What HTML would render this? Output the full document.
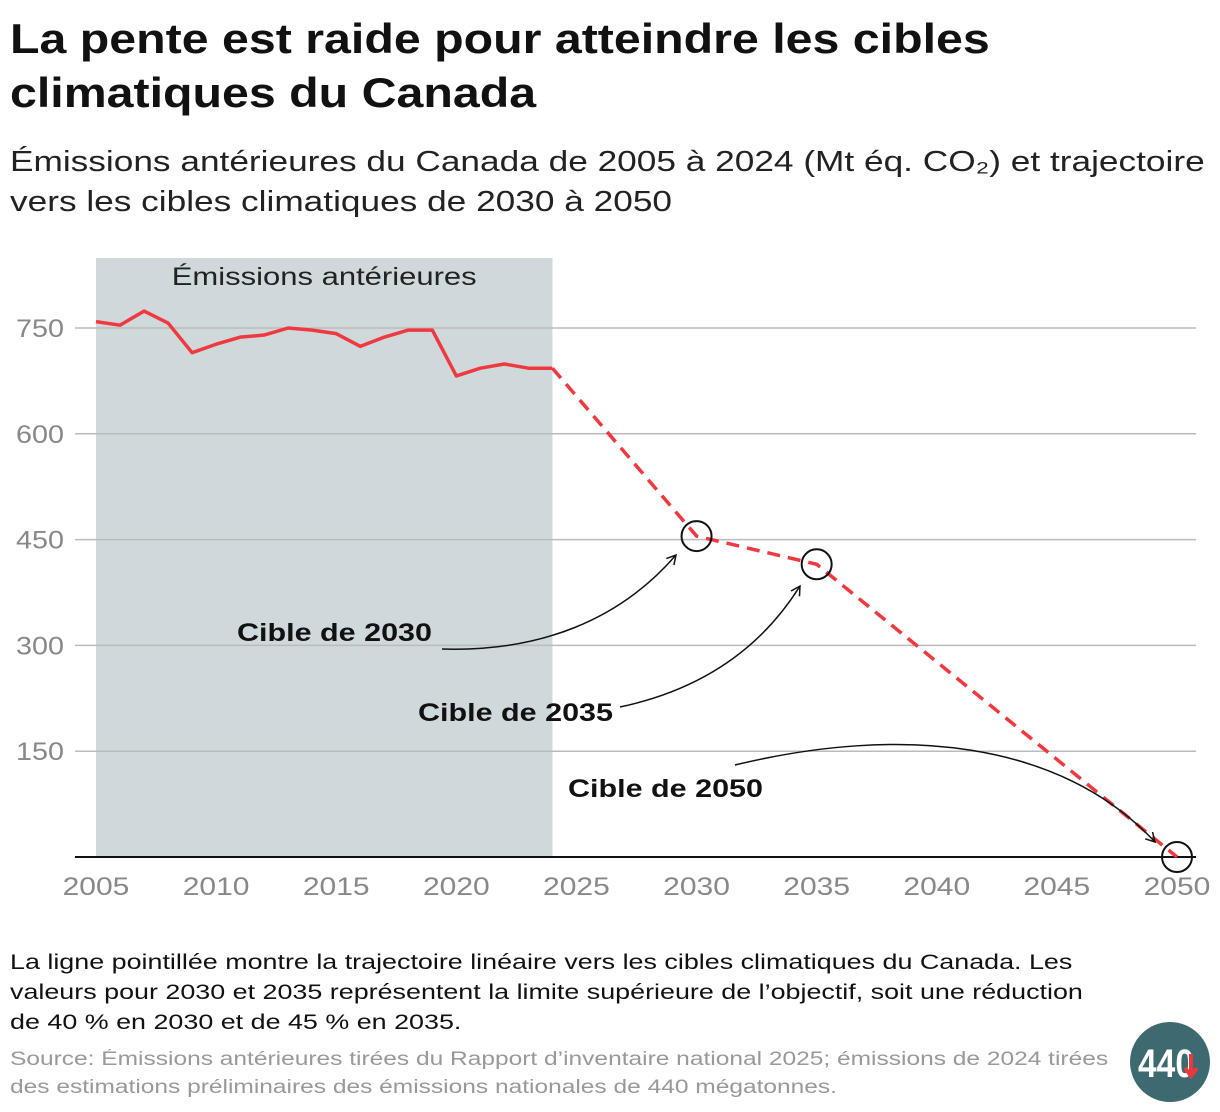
<!DOCTYPE html>
<html><head><meta charset="utf-8"><style>
body{margin:0;width:1220px;height:1112px;background:#fff;font-family:"Liberation Sans",sans-serif;position:relative;overflow:hidden}
.t{position:absolute;left:10px;white-space:nowrap;transform-origin:0 0}
</style></head><body>
<div class="t" style="top:12px;font-size:42px;font-weight:bold;line-height:54px;color:#111;transform:scaleX(1.15)">La pente est raide pour atteindre les cibles<br>climatiques du Canada</div>
<div class="t" style="top:142px;font-size:29px;line-height:40px;color:#222;transform:scaleX(1.215)">Émissions antérieures du Canada de 2005 à 2024 (Mt éq. CO₂) et trajectoire<br>vers les cibles climatiques de 2030 à 2050</div>
<svg id="chart" style="position:absolute;left:0;top:0" width="1220" height="1112"></svg>
<div class="t" style="top:948px;font-size:21px;line-height:30px;color:#111;transform:scaleX(1.28)">La ligne pointillée montre la trajectoire linéaire vers les cibles climatiques du Canada. Les<br>valeurs pour 2030 et 2035 représentent la limite supérieure de l’objectif, soit une réduction<br>de 40 % en 2030 et de 45 % en 2035.</div>
<div class="t" style="top:1046px;font-size:19px;line-height:28px;color:#999;transform:scaleX(1.29)">Source: Émissions antérieures tirées du Rapport d’inventaire national 2025; émissions de 2024 tirées<br>des estimations préliminaires des émissions nationales de 440 mégatonnes.</div>
<svg style="position:absolute;left:1130px;top:1022px" width="80" height="80">
<circle cx="40" cy="40" r="40" fill="#3d6970"/>
<text x="8" y="55" font-family="Liberation Sans" font-weight="bold" font-size="40" fill="#fff" textLength="56" lengthAdjust="spacingAndGlyphs">440</text>
<path d="M61 32 V52 M55 46 L61 54 L67 46" stroke="#e83a3a" stroke-width="4" fill="none"/>
</svg>
<script>
const years=[2005,2006,2007,2008,2009,2010,2011,2012,2013,2014,2015,2016,2017,2018,2019,2020,2021,2022,2023,2024];
const emissions=[759,754,774,757,715,727,737,740,750,747,742,724,737,747,747,682,693,699,693,693];
const targetYears=[2024,2030,2035,2050];
const targetValues=[693,455,415,0];
const yTicks=[150,300,450,600,750];
const xTicks=[2005,2010,2015,2020,2025,2030,2035,2040,2045,2050];
const NS="http://www.w3.org/2000/svg";
const svg=document.getElementById('chart');
const X=y=>96+(y-2005)*(1177-96)/45;
const Y=v=>857-v*(857-328)/750;
function el(t,a,p){const e=document.createElementNS(NS,t);for(const k in a)e.setAttribute(k,a[k]);(p||svg).appendChild(e);return e;}
function widen(t,f){const w=t.getComputedTextLength();t.setAttribute('textLength',w*f);t.setAttribute('lengthAdjust','spacingAndGlyphs');}
const shade=el('rect',{x:X(2005),y:258,width:X(2024)-X(2005),height:857-258,fill:'#cfd9dc'});


const sl=el('text',{x:(X(2005)+X(2024))/2,y:285,'text-anchor':'middle','font-size':25,fill:'#222'});
sl.textContent='Émissions antérieures';


widen(sl,1.24);
yTicks.forEach(v=>{
 const g=el('line',{x1:75,x2:1196,y1:Y(v),y2:Y(v),stroke:'#bbb','stroke-width':1.5});
 
 
 const t=el('text',{x:64,y:Y(v)+9,'text-anchor':'end','font-size':25,fill:'#888'});
 t.textContent=v;
 
 
 widen(t,1.15);
});
const ax=el('line',{x1:75,x2:1196,y1:Y(0),y2:Y(0),stroke:'#111','stroke-width':2});


xTicks.forEach(y=>{
 const t=el('text',{x:X(y),y:895,'text-anchor':'middle','font-size':25,fill:'#888'});
 t.textContent=y;
 
 
 widen(t,1.2);
});
const hist=el('polyline',{points:years.map((y,i)=>X(y)+','+Y(emissions[i])).join(' '),fill:'none',stroke:'#f0393e','stroke-width':3.5,'stroke-linejoin':'round'});


const traj=el('polyline',{points:targetYears.map((y,i)=>X(y)+','+Y(targetValues[i])).join(' '),fill:'none',stroke:'#f0393e','stroke-width':3.5,'stroke-dasharray':'13 8'});


targetYears.slice(1).forEach((y,i)=>{
 const c=el('circle',{cx:X(y),cy:Y(targetValues[i+1]),r:15,fill:'none',stroke:'#111','stroke-width':2});
 
 
});
el('defs',{}).innerHTML='<marker id="ah" markerWidth="12" markerHeight="12" refX="10" refY="6" orient="auto" markerUnits="userSpaceOnUse"><path d="M1 1 L10 6 L1 11" fill="none" stroke="#111" stroke-width="1.5"/></marker>';
const notes=[
 ['Cible de 2030',237,641,'M442 649 C540 652 620 620 676 555'],
 ['Cible de 2035',418,721,'M620 707 C700 690 760 650 800 586'],
 ['Cible de 2050',568,797,'M735 765 C900 725 1060 740 1155 842']
];
notes.forEach(n=>{
 const t=el('text',{x:n[1],y:n[2],'font-size':25,'font-weight':'bold',fill:'#111'});
 t.textContent=n[0];
 
 
 widen(t,1.22);
 const p=el('path',{d:n[3],fill:'none',stroke:'#111','stroke-width':1.5,'marker-end':'url(#ah)'});
 
 
});
</script>
</body></html>
